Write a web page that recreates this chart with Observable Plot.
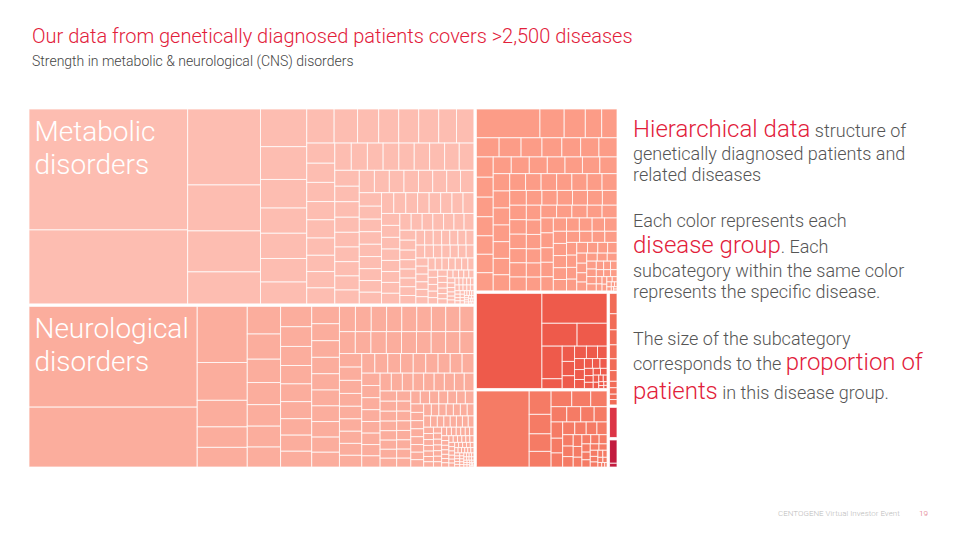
<!DOCTYPE html>
<html>
<head>
<meta charset="utf-8">
<script src="https://cdn.jsdelivr.net/npm/d3@7"></script>
<script src="https://cdn.jsdelivr.net/npm/@observablehq/plot@0.6"></script>
<style>
  html, body { margin: 0; padding: 0; background: #fff; }
  body { width: 960px; height: 540px; position: relative; overflow: hidden; font-family: Roboto, "Noto Sans", sans-serif; }
  #chart { position: absolute; left: 29px; top: 109px; }
  #overlay { position: absolute; left: 0; top: 0; }
  #overlay text { font-family: Roboto, "Noto Sans", sans-serif; font-weight: 300; }
</style>
</head>
<body>
<svg id="overlay" width="960" height="540">
  <text x="32" y="43" font-size="20" fill="#E2203A">Our data from genetically diagnosed patients covers &gt;2,500 diseases</text>
  <text x="32" y="66" font-size="14" fill="#444">Strength in metabolic &amp; neurological (CNS) disorders</text>

  <text x="633" y="137" fill="#555"><tspan font-size="24" fill="#E2203A">Hierarchical data</tspan><tspan font-size="18"> structure of</tspan></text>
  <text x="633" y="160" font-size="18" fill="#555">genetically diagnosed patients and</text>
  <text x="633" y="181" font-size="18" fill="#555">related diseases</text>

  <text x="633" y="227" font-size="18" fill="#555">Each color represents each</text>
  <text x="633" y="253" fill="#555"><tspan font-size="24" fill="#E2203A">disease group</tspan><tspan font-size="18">. Each</tspan></text>
  <text x="633" y="277" font-size="18" fill="#555">subcategory within the same color</text>
  <text x="633" y="298" font-size="18" fill="#555">represents the specific disease.</text>

  <text x="633" y="345" font-size="18" fill="#555">The size of the subcategory</text>
  <text x="633" y="370" fill="#555"><tspan font-size="18">corresponds to the </tspan><tspan font-size="24" fill="#E2203A">proportion of</tspan></text>
  <text x="633" y="399" fill="#555"><tspan font-size="24" fill="#E2203A">patients</tspan><tspan font-size="18"> in this disease group.</tspan></text>

  <text x="778" y="516" font-size="8" fill="#BBB">CENTOGENE Virtual Investor Event</text>
  <text x="919" y="516" font-size="8" fill="#E06A7A">19</text>
</svg>
<div id="chart"></div>
<script>
// ---- Data ----
const groupNames = ["Metabolic disorders", "Neurological disorders", "Disease group 3", "Disease group 4", "Disease group 5", "Disease group 6", "Disease group 7", "Disease group 8"];
const groupLabels = ["Metabolic\ndisorders", "Neurological\ndisorders", "", "", "", "", "", ""];
const groupColors = ["#FDBDB1", "#FBAD9D", "#FC9C87", "#EE5A4B", "#F57B65", "#F16C57", "#DC3546", "#C21B3E"];
// relative share of patients per disease group
const groupTotals = [87000, 71900, 26000, 12800, 10300, 1120, 320, 290];
// tiling aspect target per group
const groupRatios = [1.618, 1.618, 1, 1, 1, 1, 1, 1];

// patients per subcategory (disease) within each group
const metabolicDiseases = [19239, 11766, 5548, 3358, 2993, 2336, 1748, 1521, 1326, 1170, 1170, 1092, 1014, 936, 800, 722, 684, 684, 684, 608, 594, 567, 540, 540, 513, 513, 486, 459, 459, 450, 450, 440, 430, 430, 420, 420, 410, 400, 400, 390, 380, 380, 370, 360, 360, 350, 345, 340, 340, 335, 330, 325, 320, 315, 310, 300, 300, 290, 280, 280, 275, 270, 265, 260, 260, 255, 250, 245, 240, 240, 235, 230, 225, 220, 220, 215, 210, 205, 200, 200, 195, 190, 185, 180, 180, 175, 170, 165, 160, 160, 155, 150, 145, 140, 140, 135, 130, 128, 125, 122, 120, 120, 118, 115, 112, 110, 108, 105, 102, 100, 100, 98, 95, 92, 90, 88, 85, 82, 80, 80, 78, 75, 72, 70, 68, 65, 62, 60, 60, 58, 55, 52, 50, 48, 46, 44, 42, 40, 40, 38, 36, 34, 32, 30, 30, 28, 28, 26, 26, 24, 24, 22, 22, 20, 20, 18, 18, 16, 16, 15, 14, 14, 13, 12, 12, 11, 10, 10, 9, 9, 8, 8, 7, 7, 6, 6, 5, 5];
const neurologicalDiseases = [16564, 9840, 2745, 1850, 1300, 1000, 960, 900, 820, 760, 720, 700, 680, 650, 620, 600, 580, 560, 540, 520, 500, 490, 480, 470, 460, 450, 445, 440, 430, 425, 420, 410, 400, 395, 390, 380, 375, 370, 360, 355, 350, 345, 340, 335, 330, 325, 320, 315, 310, 305, 300, 295, 290, 285, 280, 275, 270, 265, 260, 255, 250, 248, 245, 242, 240, 236, 232, 228, 225, 222, 218, 215, 212, 208, 205, 202, 200, 196, 192, 188, 185, 182, 178, 175, 172, 168, 165, 162, 160, 156, 152, 148, 145, 142, 140, 138, 135, 132, 130, 128, 125, 122, 120, 118, 116, 114, 112, 110, 108, 106, 104, 102, 100, 98, 96, 94, 92, 90, 88, 86, 84, 82, 80, 78, 76, 74, 72, 70, 68, 66, 64, 62, 60, 58, 56, 54, 52, 50, 50, 48, 48, 46, 46, 44, 44, 42, 42, 40, 40, 38, 38, 36, 36, 34, 34, 32, 32, 30, 30, 30, 28, 28, 28, 26, 26, 26, 24, 24, 24, 22, 22, 22, 20, 20, 20, 19, 18, 18, 18, 17, 16, 16, 16, 15, 14, 14, 14, 13, 12, 12, 12, 11, 10, 10, 10, 9, 9, 9, 8, 8, 8, 7, 7, 7, 6, 6, 6, 5, 5, 5, 4, 4, 4];
const group3Diseases = [1827, 696, 608, 470, 440, 435, 420, 400, 380, 360, 350, 345, 340, 335, 330, 320, 310, 310, 305, 300, 300, 300, 295, 290, 290, 285, 285, 280, 280, 275, 275, 270, 265, 265, 260, 260, 255, 255, 250, 250, 245, 240, 240, 240, 235, 235, 230, 230, 225, 225, 220, 220, 215, 215, 210, 210, 205, 205, 200, 200, 195, 195, 190, 190, 185, 185, 180, 180, 175, 175, 170, 170, 165, 165, 160, 160, 160, 155, 150, 145, 140, 140, 135, 130, 125, 120, 120, 115, 110, 105, 100, 100, 96, 92, 88, 84, 80, 78, 75, 72, 70, 66, 62, 58, 55, 52, 48, 45, 42, 40, 36, 32, 28, 25, 22, 18, 15, 12, 10, 8, 6];
const group4Diseases = [6336, 1978, 817, 696, 672, 200, 192, 180, 160, 150, 140, 120, 110, 100, 90, 80, 75, 70, 65, 60, 55, 50, 45, 40, 35, 30, 25, 20, 15, 12, 10];
const group5Diseases = [4700, 600, 500, 450, 400, 380, 350, 300, 280, 250, 240, 230, 220, 200, 190, 180, 170, 160, 150, 140, 130, 128, 120, 110, 100, 95, 90, 85, 80, 75, 70, 65, 60, 55, 50, 45, 40, 35, 30, 25, 20, 16, 12];
const group6Diseases = [190, 150, 140, 130, 110, 100, 60, 60, 50, 50];
const group7Diseases = [320];
const group8Diseases = [250, 40];
const diseaseLists = [metabolicDiseases, neurologicalDiseases, group3Diseases, group4Diseases, group5Diseases, group6Diseases, group7Diseases, group8Diseases];

// ---- Layout ----
const W = 588, H = 358;
function group(i) {
  const list = diseaseLists[i];
  const s = d3.sum(list);
  return {name: groupNames[i], group: i, children: list.map((v, j) => ({name: groupNames[i] + " #" + (j + 1), value: v / s * groupTotals[i]}))};
}
const tree = {dir: "x", children: [
  {dir: "y", children: [group(0), group(1)]},
  {dir: "y", children: [group(2), {dir: "x", children: [
    {dir: "y", children: [group(3), group(4)]},
    {dir: "y", children: [group(5), group(6), group(7)]}
  ]}]}
]};
const root = d3.hierarchy(tree).sum(d => d.children ? 0 : d.value);
const tile = (node, x0, y0, x1, y1) => {
  if (node.data.group !== undefined) d3.treemapSquarify.ratio(groupRatios[node.data.group])(node, x0, y0, x1, y1);
  else if (node.data.dir === "x") d3.treemapDice(node, x0, y0, x1, y1);
  else d3.treemapSlice(node, x0, y0, x1, y1);
};
d3.treemap().size([W, H]).tile(tile).paddingInner(n => n.data.group !== undefined ? 0 : 2.5)(root);

const cells = root.leaves().map(d => ({name: d.data.name, groupName: groupNames[d.parent.data.group], x0: d.x0, x1: d.x1, y0: d.y0, y1: d.y1}));
const groups = root.descendants().filter(d => d.data.group !== undefined).map(d => ({label: groupLabels[d.data.group], x0: d.x0, y0: d.y0}));

const chart = Plot.plot({
  width: W, height: H, margin: 0,
  style: {fontFamily: "Roboto, 'Noto Sans', sans-serif", background: "transparent"},
  x: {domain: [0, W], range: [0, W], axis: null},
  y: {domain: [0, H], range: [0, H], axis: null},
  color: {domain: groupNames, range: groupColors},
  marks: [
    Plot.rect(cells, {x1: "x0", x2: "x1", y1: "y0", y2: "y1", fill: "groupName", stroke: "white", strokeWidth: 1, strokeOpacity: 0.75}),
    Plot.text(groups.filter(d => d.label), {x: d => d.x0 + 5, y: d => d.y0 + 8, text: "label", fill: "white", fontSize: 28, fontWeight: 300, textAnchor: "start", lineAnchor: "top", lineHeight: 1.17})
  ]
});
document.getElementById("chart").appendChild(chart);
</script>
</body>
</html>
